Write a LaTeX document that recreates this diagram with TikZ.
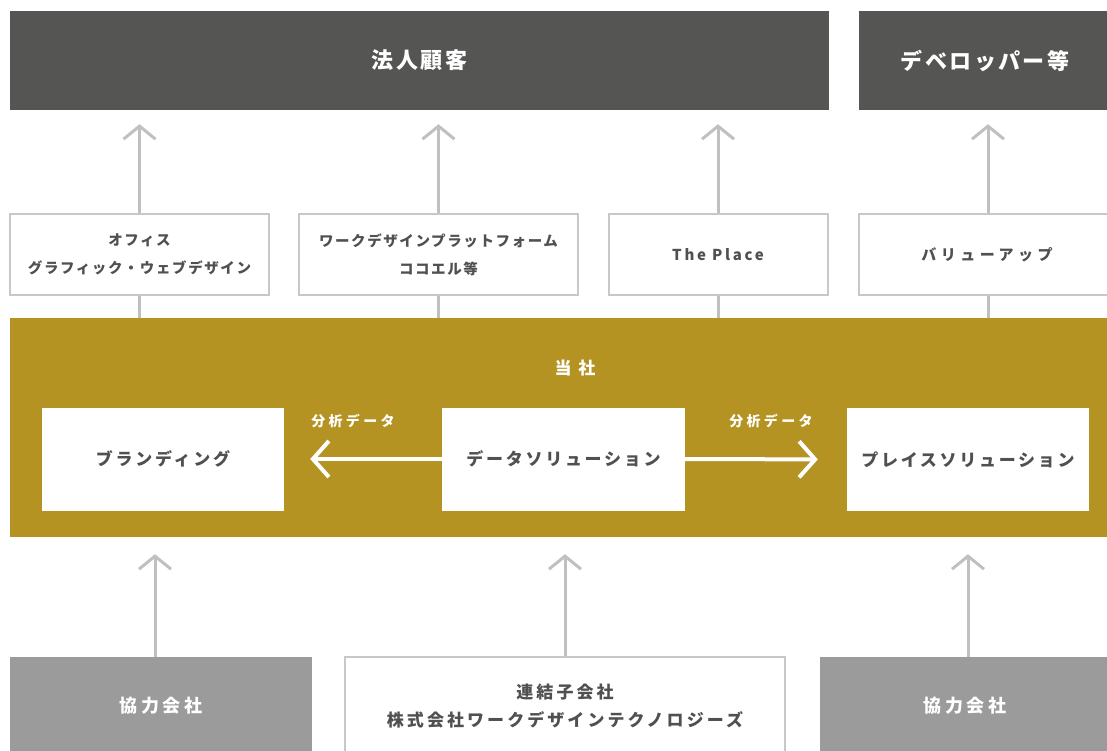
\documentclass[tikz,border=0pt]{standalone}
\usepackage{fontspec}
\setmainfont{Noto Sans CJK JP}
\usetikzlibrary{arrows.meta}
\definecolor{darkbox}{RGB}{85,85,83}
\definecolor{gold}{RGB}{181,147,34}
\definecolor{arrowgray}{RGB}{192,192,192}
\definecolor{bordergray}{RGB}{200,200,200}
\definecolor{partner}{RGB}{155,155,155}
\definecolor{txt}{RGB}{80,80,80}
\newcommand{\trk}[3]{\bfseries\fontsize{#1}{#2}\selectfont\addfontfeatures{LetterSpace=#3}}
\tikzset{
  darkhead/.style={fill=darkbox, draw=none, text=white, font=\trk{22}{26}{11}, inner sep=0pt},
  servicebox/.style={fill=white, draw=bordergray, line width=2pt, text=txt, align=center, font=\trk{14.5}{28}{11}, inner sep=0pt, minimum height=81pt},
  innerbox/.style={fill=white, draw=none, text=txt, font=\trk{17}{20}{16}, inner sep=0pt, minimum width=242pt, minimum height=103pt},
  partnerbox/.style={fill=partner, draw=none, text=white, font=\trk{18}{20}{22}, inner sep=0pt, minimum height=98pt},
  subbox/.style={fill=white, draw=bordergray, line width=2pt, text=txt, align=center, font=\trk{17}{28}{18}, inner sep=0pt, minimum height=98pt},
  grayarrow/.style={draw=arrowgray, line width=3pt, -{Straight Barb[length=13pt,width=32pt,line width=3pt]}},
  grayline/.style={draw=arrowgray, line width=3pt},
  whitearrow/.style={draw=white, line width=4pt, -{Straight Barb[length=16pt,width=36pt,line width=4pt]}},
  datalabel/.style={text=white, font=\trk{14}{16}{24}, inner sep=0pt},
}
\begin{document}
\begin{tikzpicture}[x=1pt, y=-1pt]
\useasboundingbox (0,0) rectangle (1107,751);
\clip (0,0) rectangle (1107,751);

% top customers
\node[darkhead, minimum width=819pt, minimum height=99pt] (hojin) at (419.5,60.5) {法人顧客};
\node[darkhead, minimum width=252pt, minimum height=99pt] (dev) at (985,60.5) {デベロッパー等};

% service boxes
\node[servicebox, minimum width=259pt] (m1) at (139.5,254.5) {オフィス\\グラフィック・ウェブデザイン};
\node[servicebox, minimum width=279pt] (m2) at (438.5,254.5) {ワークデザインプラットフォーム\\ココエル等};
\node[servicebox, minimum width=219pt, font=\trk{15}{28}{18}] (m3) at (718,254.5) {The Place};
\node[servicebox, minimum width=256pt, font=\trk{15}{28}{30}] (m4) at (987,254.5) {バリューアップ};

% company band
\node[fill=gold, draw=none, inner sep=0pt, minimum width=1102pt, minimum height=219pt] (band) at (561,427.5) {};
\node[text=white, font=\trk{17}{20}{0}, inner sep=0pt] (tousha) at (575,368) {当\hspace{0.4em}社};

\node[innerbox] (brand) at (163,459) {ブランディング};
\node[innerbox, minimum width=243pt] (data) at (563.5,459) {データソリューション};
\node[innerbox] (place) at (968,459.5) {プレイスソリューション};

\draw[whitearrow, shorten >=26pt] (data.west) -- (brand.east);
\draw[whitearrow, shorten >=29pt] (data.east) -- (place.west);
\node[datalabel] (lab1) at (353,421) {分析データ};
\node[datalabel] (lab2) at (771,421) {分析データ};

% arrows to customers
\draw[grayarrow, shorten >=14pt] (m1.north) -- (m1.north |- hojin.south);
\draw[grayarrow, shorten >=14pt] (m2.north) -- (m2.north |- hojin.south);
\draw[grayarrow, shorten >=14pt] (m3.north) -- (m3.north |- hojin.south);
\draw[grayarrow, shorten >=14pt] ([xshift=1pt]m4.north) -- ([xshift=1pt]m4.north |- dev.south);

% links from band to service boxes
\draw[grayline] (m1.south) -- (m1.south |- band.north);
\draw[grayline] (m2.south) -- (m2.south |- band.north);
\draw[grayline] (m3.south) -- (m3.south |- band.north);
\draw[grayline] ([xshift=1pt]m4.south) -- ([xshift=1pt]m4.south |- band.north);

% bottom suppliers
\node[partnerbox, minimum width=302pt] (kyo1) at (161,706) {協力会社};
\node[subbox, minimum width=440pt] (sub) at (565,706) {連結子会社\\株式会社ワークデザインテクノロジーズ};
\node[partnerbox, minimum width=290pt] (kyo2) at (965,706) {協力会社};

\draw[grayarrow, shorten >=17pt] ([xshift=-6pt]kyo1.north) -- ([xshift=-6pt]kyo1.north |- band.south);
\draw[grayarrow, shorten >=17pt] (sub.north) -- (sub.north |- band.south);
\draw[grayarrow, shorten >=17pt] ([xshift=3pt]kyo2.north) -- ([xshift=3pt]kyo2.north |- band.south);
\end{tikzpicture}
\end{document}
